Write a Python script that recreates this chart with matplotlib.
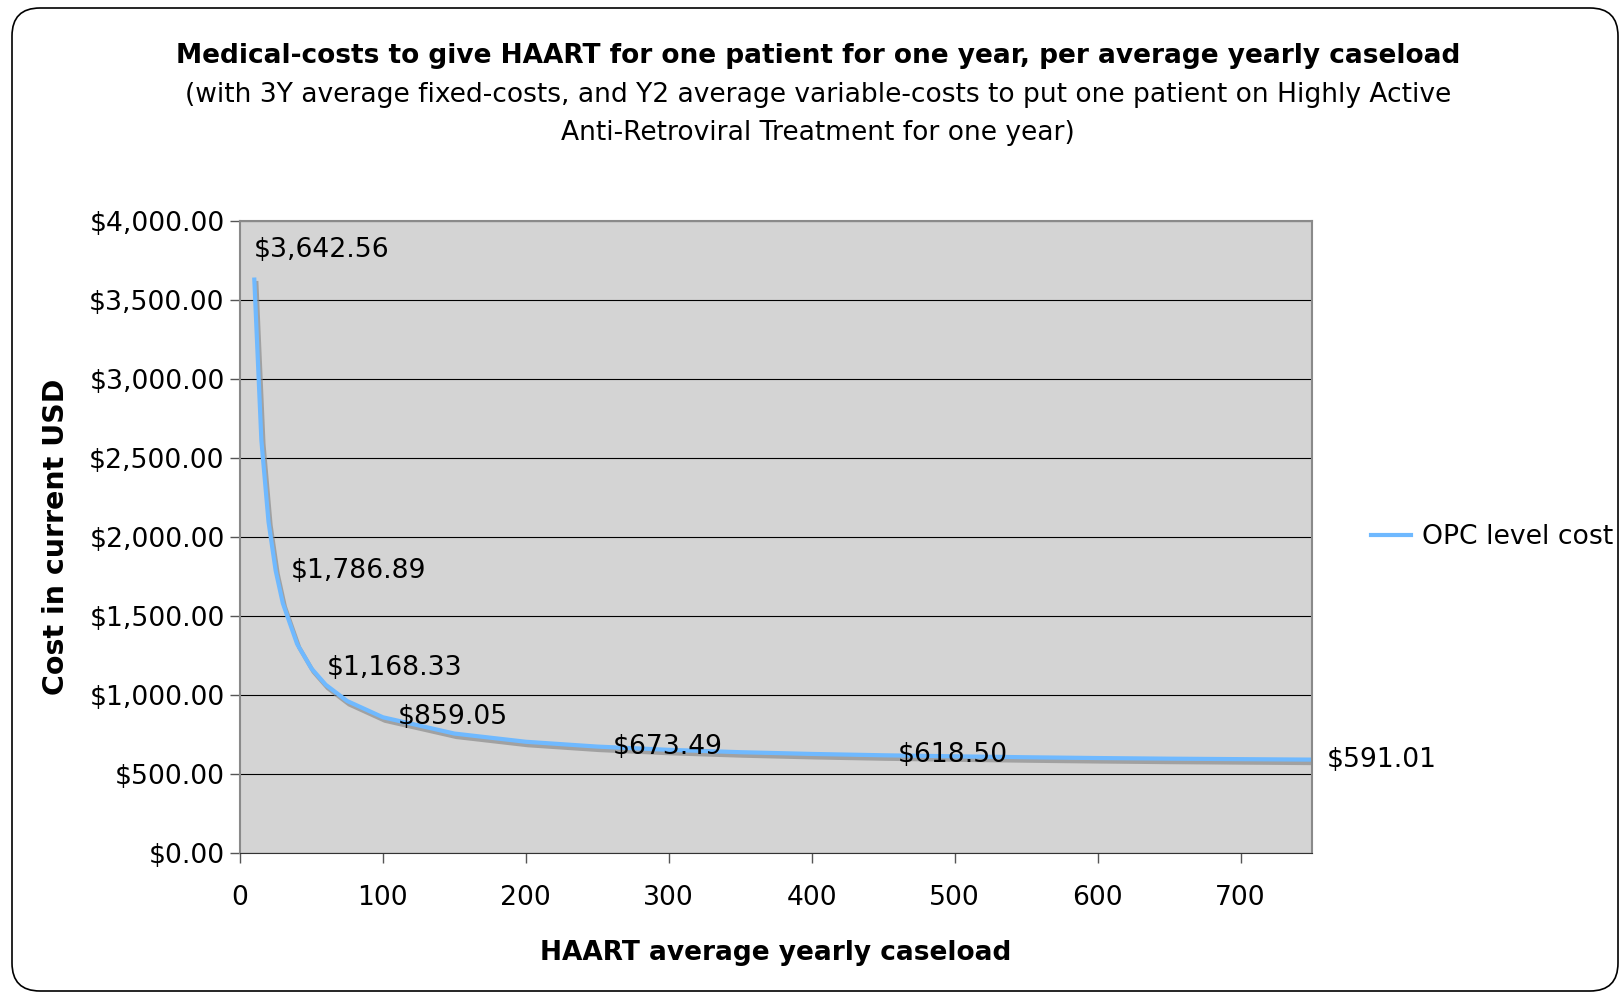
import numpy as np
import matplotlib.pyplot as plt
import matplotlib.patheffects as pe
from matplotlib.patches import FancyBboxPatch
from matplotlib.lines import Line2D
from matplotlib.ticker import FuncFormatter

# average yearly caseload vs. cost per patient per year (OPC level)
caseload = [10, 15, 20, 25, 30, 40, 50, 60, 75, 100, 150, 200, 250, 300,
            350, 400, 450, 500, 550, 600, 650, 700, 750]
opc_cost = [3642.56, 2612, 2096, 1786.89, 1581, 1323, 1168.33, 1065, 962,
            859.05, 756, 704, 673.49, 653, 638, 627, 618.50, 612, 606, 601,
            597, 594, 591.01]

# points that carry a value label
label_x = [10, 25, 50, 100, 250, 450, 750]
label_y = [3642.56, 1786.89, 1168.33, 859.05, 673.49, 618.50, 591.01]

title = "Medical-costs to give HAART for one patient for one year, per average yearly caseload"
subtitle = ("(with 3Y average fixed-costs, and Y2 average variable-costs to put one patient on Highly Active\n"
            "Anti-Retroviral Treatment for one year)")

plt.rcParams['font.family'] = ['DejaVu Sans']
blue = '#6fb9ff'
fs = 19.2

fig = plt.figure(figsize=(16.19, 9.93), dpi=100)
ax = fig.add_axes([0.1482, 0.1410, 0.6622, 0.6364])
ax.set_facecolor('#d4d4d4')

ax.plot(caseload, opc_cost, color=blue, lw=3.0, solid_capstyle='butt',
        path_effects=[pe.SimpleLineShadow(offset=(1.5, -2.5), shadow_color='#8c8c8c', alpha=0.7),
                      pe.Normal()])

for i, (x, y) in enumerate(zip(label_x, label_y)):
    off = (0, 28) if i == 0 else (15, 0)
    ax.annotate("${:,.2f}".format(y), (x, y), xytext=off, textcoords='offset pixels',
                ha='left', va='center', fontsize=fs, annotation_clip=False)

ax.set_xlim(0, 750)
ax.set_ylim(0, 4000)
ax.set_xticks(range(0, 701, 100))
ax.set_yticks(range(0, 4001, 500))
ax.yaxis.set_major_formatter(FuncFormatter(lambda v, p: "${:,.2f}".format(v)))
ax.grid(axis='y', color='black', lw=0.8)
ax.set_axisbelow(True)
ax.tick_params(axis='both', labelsize=fs, length=7, color='#555555', width=1)
ax.tick_params(axis='x', pad=16)
ax.tick_params(axis='y', pad=4)
for s in ['top', 'right', 'left']:
    ax.spines[s].set_color('#8a8a8a')
    ax.spines[s].set_linewidth(1.5)
ax.spines['bottom'].set_color('#333333')

ax.set_xlabel("HAART average yearly caseload", fontsize=19, fontweight='bold', labelpad=21)
ax.set_ylabel("Cost in current USD", fontsize=20.5, fontweight='bold', labelpad=14)

handle = Line2D([], [], color=blue, lw=3.0)
ax.legend([handle], ['OPC level cost'], loc='center left', bbox_to_anchor=(1.043, 0.5),
          frameon=False, fontsize=fs, handlelength=1.5, handletextpad=0.4, borderpad=0)

fig.text(0.5053, 0.944, title, ha='center', va='center', fontsize=19, fontweight='bold')
fig.text(0.5053, 0.885, subtitle, ha='center', va='center', fontsize=19.1, linespacing=1.6)

# rounded outer frame
frame = FancyBboxPatch((12, 2), 1606, 983, boxstyle='round,pad=0,rounding_size=28',
                       transform=None, fill=False, ec='black', lw=1.2)
fig.patches.append(frame)

plt.savefig("out.png", dpi=100)
